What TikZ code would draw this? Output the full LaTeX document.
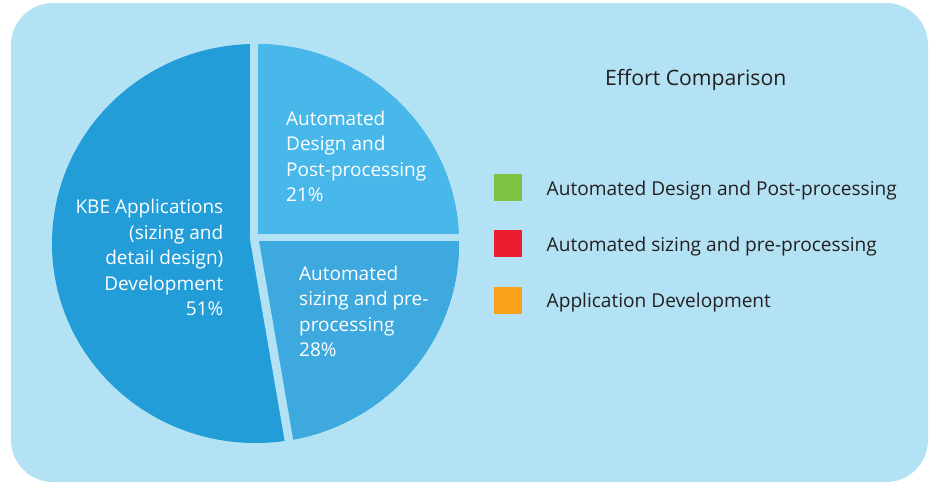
\documentclass[tikz,border=0pt]{standalone}
\usepackage{fontspec}
\setmainfont{Open Sans}
\definecolor{panel}{HTML}{B3E2F4}
\definecolor{sliceA}{HTML}{239DD8}
\definecolor{sliceB}{HTML}{48B8EA}
\definecolor{sliceC}{HTML}{3EA9DE}
\definecolor{keyGreen}{HTML}{7DC242}
\definecolor{keyRed}{HTML}{ED1C2E}
\definecolor{keyOrange}{HTML}{F9A11B}
\definecolor{ink}{HTML}{231F20}
\tikzset{
  gap/.style={draw=panel, line width=#1, line cap=round},
  slicelabel/.style={text=white, inner sep=0pt, anchor=north west, align=left,
    font=\fontsize{19}{25.5}\selectfont},
  keybox/.style={fill=#1, draw=none, minimum width=28pt, minimum height=27pt,
    inner sep=0pt, anchor=north west},
  keytext/.style={text=ink, inner sep=0pt, anchor=base west,
    font=\fontsize{19.1}{22}\selectfont},
}
\begin{document}
\begin{tikzpicture}[x=1pt,y=-1pt]
\useasboundingbox (0,0) rectangle (934,483);
% panel
\fill[panel, rounded corners=42pt] (11,3) rectangle (928,482);

% pie
\coordinate (c) at (254,237.5);
\begin{scope}
  \clip (255.5,243.5) ellipse [x radius=203.5pt, y radius=199.5pt];
  \fill[sliceA] (40,30) rectangle (470,460);
  \fill[sliceB] (254,30) rectangle (470,237.5);
  \fill[sliceC] (c) -- (297.1,487.6) -- (470,487.6) -- (470,237.5) -- cycle;
\end{scope}
\coordinate (gtop) at (254,30);
\coordinate (gright) at (470,237.5);
\coordinate (gdiag) at (293.6,467.5);
\draw[gap=8pt] (c) -- (gtop);
\draw[gap=6.8pt] (c) -- (gright);
\draw[gap=8.5pt] (c) -- (gdiag);

% slice labels
\node[slicelabel] (lblB) at (286,107.2) {\strut Automated\\Design and\\Post-processing\\21\%};
\node[slicelabel] (lblC) at (299,262.2) {\strut Automated\\sizing and pre-\\processing\\28\%};
\node[slicelabel, align=right, anchor=north east] (lblA) at (223.5,195.5)
  {\strut KBE Applications\\(sizing and\\detail design)\\Development\\51\%};

% title and key
\node[text=ink, inner sep=0pt, anchor=base west, font=\fontsize{21.2}{24}\selectfont]
  (title) at (605,85) {Effort Comparison};
\node[keybox=keyGreen] (k1) at (494,174) {};
\node[keybox=keyRed] (k2) at (494,230) {};
\node[keybox=keyOrange] (k3) at (494,286.7) {};
\node[keytext] (t1) at (546.5,195) {Automated Design and Post-processing};
\node[keytext] (t2) at (546.5,251) {Automated sizing and pre-processing};
\node[keytext] (t3) at (546.5,307.7) {Application Development};
\end{tikzpicture}
\end{document}
